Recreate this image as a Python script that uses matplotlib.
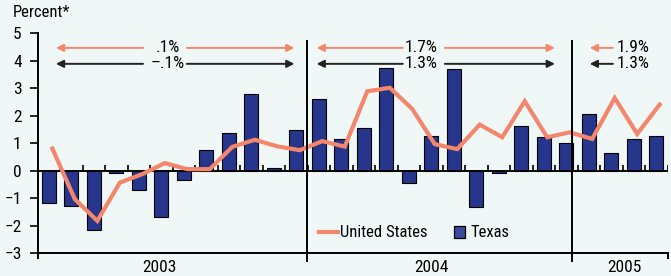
import matplotlib
matplotlib.use("Agg")
import matplotlib.pyplot as plt
import numpy as np
from matplotlib import font_manager

# monthly data, Jan 2003 - Apr 2005 (annualized percent change)
texas = [-1.18, -1.28, -2.17, -0.08, -0.69, -1.67, -0.34, 0.74, 1.36, 2.81, 0.12, 1.50,
         2.62, 1.17, 1.56, 3.75, -0.43, 1.28, 3.71, -1.33, -0.08, 1.63, 1.24, 1.02,
         2.07, 0.65, 1.16, 1.27]
us = [0.81, -1.03, -1.82, -0.43, -0.12, 0.28, 0.06, 0.06, 0.87, 1.13, 0.89, 0.75,
      1.08, 0.88, 2.89, 3.02, 2.25, 0.97, 0.79, 1.68, 1.22, 2.53, 1.22, 1.40,
      1.16, 2.65, 1.34, 2.41]
years = ["2003", "2004", "2005"]
us_avg = [".1%", "1.7%", "1.9%"]
tx_avg = ["\u2013.1%", "1.3%", "1.3%"]
yticks = [5, 4, 3, 2, 1, 0, -1, -2, -3]

BG = "#F0F8F7"
NAVY = "#25368C"
SALMON = "#F4866C"
DARK = "#222222"
FS = 12

names = {f.name for f in font_manager.fontManager.ttflist}
font = "DejaVu Sans"
for cand in ["Liberation Sans Narrow", "Roboto Condensed", "Archivo Narrow"]:
    if cand in names:
        font = cand
        break
plt.rcParams["font.family"] = [font, "DejaVu Sans"]
plt.rcParams["font.size"] = FS

fig = plt.figure(figsize=(6.71, 2.76), dpi=100, facecolor=BG)
ax = fig.add_axes([0.0562, 0.0822, 0.9387, 0.7971])
ax.set_facecolor(BG)

x = np.arange(len(texas))
ax.bar(x, texas, width=0.62, color=NAVY, edgecolor="black", linewidth=0.8, zorder=2)
ax.axhline(0, color="black", lw=1.4, zorder=3)
# small month ticks on the zero line
ax.vlines(x + 0.5, 0, 0.2, color="black", lw=1.2, zorder=3)
ax.plot(x + 0.15, us, color=SALMON, lw=3.0, solid_joinstyle="miter", zorder=4)

ax.set_xlim(-0.5, 27.5)
ax.set_ylim(-3, 5)
for s in ["top", "right"]:
    ax.spines[s].set_visible(False)
ax.spines["left"].set_linewidth(1.4)
ax.spines["bottom"].set_linewidth(1.4)
ax.set_xticks([])
ax.set_yticks(yticks)
ax.set_yticklabels([str(v).replace("-", "\u2212") for v in yticks])
ax.tick_params(axis="y", length=5.5, width=1.2, pad=6, labelsize=FS + 0.5)

# year separators and end ticks
seps = [11.47, 23.23]
ax.vlines(seps, -3.3, 4.77, color="black", lw=1.4, clip_on=False, zorder=5)
ax.vlines([-0.5, 27.5], -3.2, -3, color="black", lw=1.4, clip_on=False)
for xp, yr in zip([4.9, 17.0, 25.6], years):
    ax.text(xp, -3.53, yr, ha="center", va="center", fontsize=FS + 0.5)

ax.text(-1.6, 5.75, "Percent*", ha="left", va="center", fontsize=FS)


def arrow(x0, x1, y, c):
    ax.annotate("", xy=(x1, y), xytext=(x0, y),
                arrowprops=dict(arrowstyle="-|>", color=c, lw=1.4,
                                mutation_scale=11, shrinkA=0, shrinkB=0))


# average annotations
yu, yt = 4.47, 3.89
spans = [(0.31, 4.18, 6.13, 10.91), (11.9, 15.73, 17.6, 22.49)]
centers = [5.3, 16.55]
for i, (l, a, b, r) in enumerate(spans):
    arrow(a, l, yu, SALMON)
    arrow(b, r, yu, SALMON)
    arrow(a, l, yt, DARK)
    arrow(b, r, yt, DARK)
    ax.text(centers[i], yu, us_avg[i], ha="center", va="center", fontsize=FS + 0.5)
    ax.text(centers[i], yt, tx_avg[i], ha="center", va="center", fontsize=FS + 0.5)
arrow(25.07, 24.04, yu, SALMON)
arrow(25.07, 24.04, yt, DARK)
ax.text(25.25, yu, us_avg[2], ha="left", va="center", fontsize=FS + 0.5)
ax.text(25.25, yt, tx_avg[2], ha="left", va="center", fontsize=FS + 0.5)

# legend drawn by hand
ax.plot([12.0, 12.85], [-2.23, -2.23], color=SALMON, lw=3.0)
ax.text(12.95, -2.23, "United States", ha="left", va="center", fontsize=FS)
ax.bar([18.25], [0.44], bottom=-2.45, width=0.48, color="#3A4A9C",
       edgecolor="black", linewidth=0.9)
ax.text(18.75, -2.23, "Texas", ha="left", va="center", fontsize=FS)

fig.savefig("out.png", dpi=100, facecolor=BG)
